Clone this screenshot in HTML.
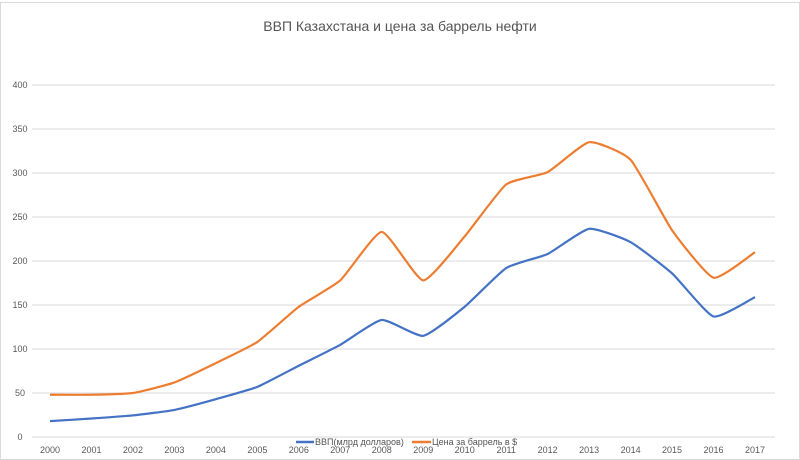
<!DOCTYPE html>
<html><head><meta charset="utf-8"><style>
body{margin:0;background:#fff;}
svg{display:block;font-family:"Liberation Sans",sans-serif;}
</style></head><body>
<svg id="chart" width="800" height="460">
<rect x="0.5" y="2.5" width="799" height="457" fill="#fff" stroke="#d9d9d9"/>
<text x="400" y="31" text-anchor="middle" font-size="14" fill="#555">ВВП Казахстана и цена за баррель нефти</text>
<g id="grid"></g><g id="series"></g>
<g>
<line x1="296" y1="442" x2="314" y2="442" stroke="#4472c4" stroke-width="2.5"/>
<text x="315" y="445" font-size="9" fill="#555">ВВП(млрд долларов)</text>
<line x1="412" y1="442" x2="431" y2="442" stroke="#ed7d31" stroke-width="2.5"/>
<text x="432" y="445" font-size="9" fill="#555">Цена за баррель в $</text>
</g>
</svg>
<script>
const years=["2000","2001","2002","2003","2004","2005","2006","2007","2008","2009","2010","2011","2012","2013","2014","2015","2016","2017"];
const gdp=[18,21,24.6,30.8,43,57,81,104.8,133,115,148,192,208,236.6,221.4,186,137,159];
const oil=[30,27,25.4,31.2,41,51,67,73.2,100,63,80,95,93,98.4,93.6,49,44,51];
const yTicks=[0,50,100,150,200,250,300,350,400];
const NS="http://www.w3.org/2000/svg";
const xs=i=>50+i*41.47, ys=v=>437-v*0.88;
const grid=document.getElementById('grid'), ser=document.getElementById('series');
function mk(t,a,p){const e=document.createElementNS(NS,t);for(const k in a)e.setAttribute(k,a[k]);p.appendChild(e);return e;}
yTicks.forEach(v=>{
 const l=mk('line',{x1:32,x2:775,y1:ys(v),y2:ys(v),stroke:'#d9d9d9','stroke-width':1},grid);
 
 
 const t=mk('text',{x:20,y:ys(v)+3,'text-anchor':'middle','font-size':9,fill:'#595959'},grid);
 t.textContent=v;
 
 
});
years.forEach((y,i)=>{
 const t=mk('text',{x:xs(i),y:453,'text-anchor':'middle','font-size':9,fill:'#595959'},grid);
 t.textContent=y;
 
 
});
function path(vals){
 const p=vals.map((v,i)=>[xs(i),ys(v)]);let d='M'+p[0];
 const k=12;
 for(let i=0;i<p.length-1;i++){const p0=p[i-1]||p[i],p1=p[i],p2=p[i+1],p3=p[i+2]||p2;
  const c1=[p1[0]+(p2[0]-p0[0])/k,p1[1]+(p2[1]-p0[1])/k],c2=[p2[0]-(p3[0]-p1[0])/k,p2[1]-(p3[1]-p1[1])/k];
  d+=' C'+c1+' '+c2+' '+p2;}
 return d;}
const stacked=gdp.map((v,i)=>v+oil[i]);
const a=mk('path',{d:path(stacked),fill:'none',stroke:'#ed7d31','stroke-width':2.2},ser);


const b=mk('path',{d:path(gdp),fill:'none',stroke:'#4472c4','stroke-width':2.2},ser);


</script>
</body></html>
